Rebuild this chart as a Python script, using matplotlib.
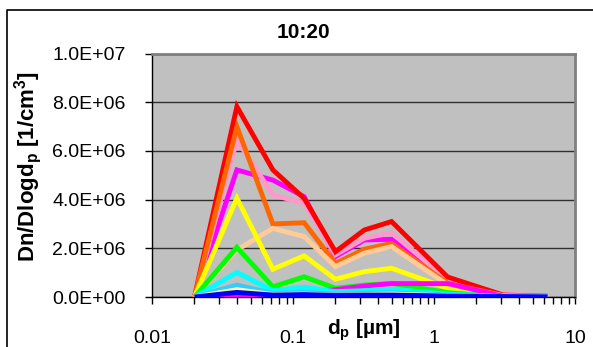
import matplotlib
matplotlib.use("Agg")
import matplotlib.pyplot as plt
from matplotlib.lines import Line2D
from matplotlib.ticker import FixedLocator, LogLocator, NullFormatter

plt.rcParams['font.family'] = ['Liberation Sans', 'DejaVu Sans']
plt.rcParams['mathtext.fontset'] = 'custom'
plt.rcParams['mathtext.bf'] = 'Liberation Sans:bold'
plt.rcParams['mathtext.rm'] = 'Liberation Sans'

# particle diameter [um]
dp = [0.02, 0.04, 0.072, 0.12, 0.2, 0.32, 0.5, 1.25, 3.1, 6.4]

# Dn/Dlogdp in units of 1e6 1/cm3, one list per time step
red = [0, 7.82, 5.22, 4.05, 1.86, 2.75, 3.10, 0.82, 0.08, 0.03]
orange = [0, 7.00, 3.00, 3.05, 1.38, 1.96, 2.20, 0.56, 0.06, 0.02]
pink = [0, 6.45, 4.19, 3.85, 1.73, 2.41, 2.64, 0.70, 0.12, 0.05]
magenta = [0, 5.22, 4.80, 4.12, 1.66, 2.34, 2.37, 0.62, 0.05, 0.03]
peach = [0, 1.93, 2.82, 2.48, 1.25, 1.80, 2.07, 0.50, 0.05, 0.02]
yellow = [0, 4.06, 1.14, 1.69, 0.73, 1.04, 1.18, 0.36, 0.03, 0.01]
green = [0, 2.04, 0.42, 0.83, 0.36, 0.49, 0.56, 0.18, 0.02, 0.01]
magenta2 = [0, 0.03, 0.10, 0.15, 0.30, 0.45, 0.55, 0.55, 0.03, 0.02]
cyan = [0, 1.01, 0.26, 0.40, 0.22, 0.26, 0.32, 0.12, 0.02, 0.01]
skyblue = [0, 0.49, 0.15, 0.20, 0.12, 0.15, 0.18, 0.08, 0.01, 0.01]
paleyellow = [0, 0.30, 0.10, 0.12, 0.08, 0.10, 0.12, 0.05, 0.01, 0.01]
blue = [0, 0.19, 0.08, 0.10, 0.07, 0.08, 0.08, 0.04, 0.02, 0.01]

series = [
    (magenta, '#FF00FF'),
    (pink, '#FF99CC'),
    (red, '#FF0000'),
    (orange, '#FF6600'),
    (peach, '#FFCC99'),
    (yellow, '#FFFF00'),
    (green, '#00FF00'),
    (magenta2, '#FF00FF'),
    (cyan, '#00FFFF'),
    (skyblue, '#33CCFF'),
    (paleyellow, '#FFFF99'),
    (blue, '#0000FF'),
]

yticks = [0, 2e6, 4e6, 6e6, 8e6, 1e7]
ytick_labels = ['0.0E+00', '2.0E+06', '4.0E+06', '6.0E+06', '8.0E+06', '1.0E+07']
xticks = [0.01, 0.1, 1, 10]
xtick_labels = ['0.01', '0.1', '1', '10']

W, H = 593, 347
fig = plt.figure(figsize=(W / 100, H / 100), dpi=100)
ax = fig.add_axes([152 / W, 1 - 297 / H, (575 - 152) / W, (297 - 53.5) / H])
ax.set_facecolor('#C0C0C0')

for vals, col in series:
    ax.plot(dp, [v * 1e6 for v in vals], color=col, lw=3.5,
            solid_joinstyle='miter', solid_capstyle='butt', zorder=3)

ax.set_xscale('log')
ax.set_xlim(0.01, 10)
ax.set_ylim(0, 1e7)
ax.set_yticks(yticks)
ax.set_yticklabels(ytick_labels)
ax.xaxis.set_major_locator(FixedLocator(xticks))
ax.set_xticklabels(xtick_labels)
ax.xaxis.set_minor_locator(LogLocator(base=10, subs=range(2, 10)))
ax.xaxis.set_minor_formatter(NullFormatter())
ax.tick_params(axis='y', direction='out', length=5, width=1, pad=14, labelsize=14)
ax.tick_params(axis='x', which='major', direction='out', length=5, width=1, pad=19, labelsize=14)
ax.tick_params(axis='x', which='minor', direction='out', length=5, width=1)

ax.grid(axis='y', color='#303030', lw=1, zorder=1)
ax.set_axisbelow(True)
for s in ['top', 'right']:
    ax.spines[s].set_color('#808080')
    ax.spines[s].set_linewidth(2)
for s in ['left', 'bottom']:
    ax.spines[s].set_color('black')
    ax.spines[s].set_linewidth(1)

fig.text(303 / W, 1 - 33 / H, '10:20', ha='center', va='center',
         fontsize=15, fontweight='bold')
fig.text(364 / W, 1 - 330 / H, r'd$_\mathbf{p}$ [µm]', ha='center', va='center',
         fontsize=15, fontweight='bold')
fig.text(28 / W, 1 - 166 / H, r'Dn/Dlogd$_\mathbf{p}$ [1/cm$^\mathbf{3}$]',
         ha='center', va='center', rotation=90, fontsize=16, fontweight='bold')

# outer chart frame
fig.add_artist(Line2D([7 / W, 7 / W, 1], [0, 1 - 10 / H, 1 - 10 / H],
                      transform=fig.transFigure, color='black', lw=1.2))

fig.savefig('out.png', dpi=100)
